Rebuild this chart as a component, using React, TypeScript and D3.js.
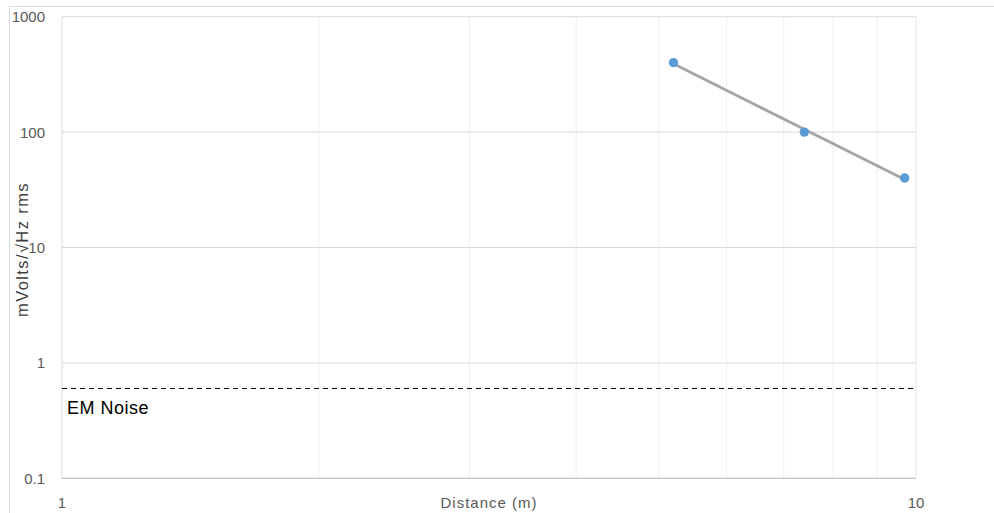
import React from "react";
import * as d3 from "d3";

const distances = [5.2, 7.4, 9.7];
const voltages = [400, 100, 40];
const xTicks = [1, 10];
const yTicks = [0.1, 1, 10, 100, 1000];
const xMinorGrid = [2, 3, 4, 5, 6, 7, 8, 9];
const noiseLevel = 0.6;
const noiseLabel = "EM Noise";
const xTitle = "Distance (m)";
const yTitle = "mVolts/√Hz rms";

const W = 994;
const H = 513;
const M = { left: 62, right: 916, top: 16.7, bottom: 478.3 };
const FONT = "'Liberation Sans', Arial, sans-serif";

export default function App() {
  const x = d3.scaleLog().domain([1, 10]).range([M.left, M.right]);
  const y = d3.scaleLog().domain([0.1, 1000]).range([M.bottom, M.top]);

  // power-law trendline (least squares in log-log space)
  const lx = distances.map(Math.log10);
  const ly = voltages.map(Math.log10);
  const mx = d3.mean(lx)!;
  const my = d3.mean(ly)!;
  const sxy = d3.sum(lx.map((v, i) => (v - mx) * (ly[i] - my)));
  const sxx = d3.sum(lx.map((v) => (v - mx) * (v - mx)));
  const slope = sxy / sxx;
  const icpt = my - slope * mx;
  const x0 = d3.min(distances)!;
  const x1 = d3.max(distances)!;
  const trend: [number, number][] = [x0, x1].map((d) => [d, Math.pow(10, icpt + slope * Math.log10(d))]);
  const line = d3
    .line<[number, number]>()
    .x((d) => x(d[0]))
    .y((d) => y(d[1]));

  return (
    <svg
      width={W}
      height={H}
      style={{ position: "absolute", left: 0, top: 0, background: "#fff" }}
      fontFamily={FONT}
    >
      <rect x={9.5} y={6.5} width={1200} height={800} fill="#fff" stroke="#d9d9d9" strokeWidth={1} />
      {/* minor vertical gridlines */}
      {xMinorGrid.map((v) => (
        <line key={"vx" + v} x1={x(v)} x2={x(v)} y1={M.top} y2={M.bottom} stroke="#efefef" strokeWidth={1} />
      ))}
      {/* horizontal gridlines */}
      {yTicks.map((v) => (
        <line key={"hy" + v} x1={M.left} x2={M.right} y1={y(v)} y2={y(v)} stroke="#d9d9d9" strokeWidth={1} />
      ))}
      {/* plot borders */}
      <line x1={M.left} x2={M.left} y1={M.top} y2={M.bottom} stroke="#d9d9d9" strokeWidth={1} />
      <line x1={M.right} x2={M.right} y1={M.top} y2={M.bottom} stroke="#e6e6e6" strokeWidth={1} />
      <line x1={M.left} x2={M.right} y1={M.bottom} y2={M.bottom} stroke="#bfbfbf" strokeWidth={1} />

      {/* noise level */}
      <line
        x1={M.left}
        x2={M.right}
        y1={y(noiseLevel)}
        y2={y(noiseLevel)}
        stroke="#000"
        strokeWidth={1}
        strokeDasharray="5,4"
      />
      <text x={67} y={y(noiseLevel) + 25} fontSize={18} letterSpacing={0.5} fill="#000">
        {noiseLabel}
      </text>

      {/* trendline */}
      <path d={line(trend) || ""} fill="none" stroke="#a5a5a5" strokeWidth={2.75} />
      {/* points */}
      {distances.map((d, i) => (
        <circle key={"p" + i} cx={x(d)} cy={y(voltages[i])} r={4.7} fill="#5b9bd5" />
      ))}

      {/* y tick labels */}
      {yTicks.map((v) => (
        <text key={"yl" + v} x={45} y={y(v) + 5.5} textAnchor="end" fontSize={15} fill="#595959">
          {String(v)}
        </text>
      ))}
      {/* x tick labels */}
      {xTicks.map((v) => (
        <text key={"xl" + v} x={x(v)} y={507.5} textAnchor="middle" fontSize={15} fill="#595959">
          {String(v)}
        </text>
      ))}
      <text x={(M.left + M.right) / 2} y={508} textAnchor="middle" fontSize={15} letterSpacing={1} fill="#595959">
        {xTitle}
      </text>
      <text
        transform={`translate(28, ${(M.top + M.bottom) / 2 + 2}) rotate(-90)`}
        textAnchor="middle"
        fontSize={16.5}
        letterSpacing={1.4}
        fill="#404040"
      >
        {yTitle}
      </text>
    </svg>
  );
}
